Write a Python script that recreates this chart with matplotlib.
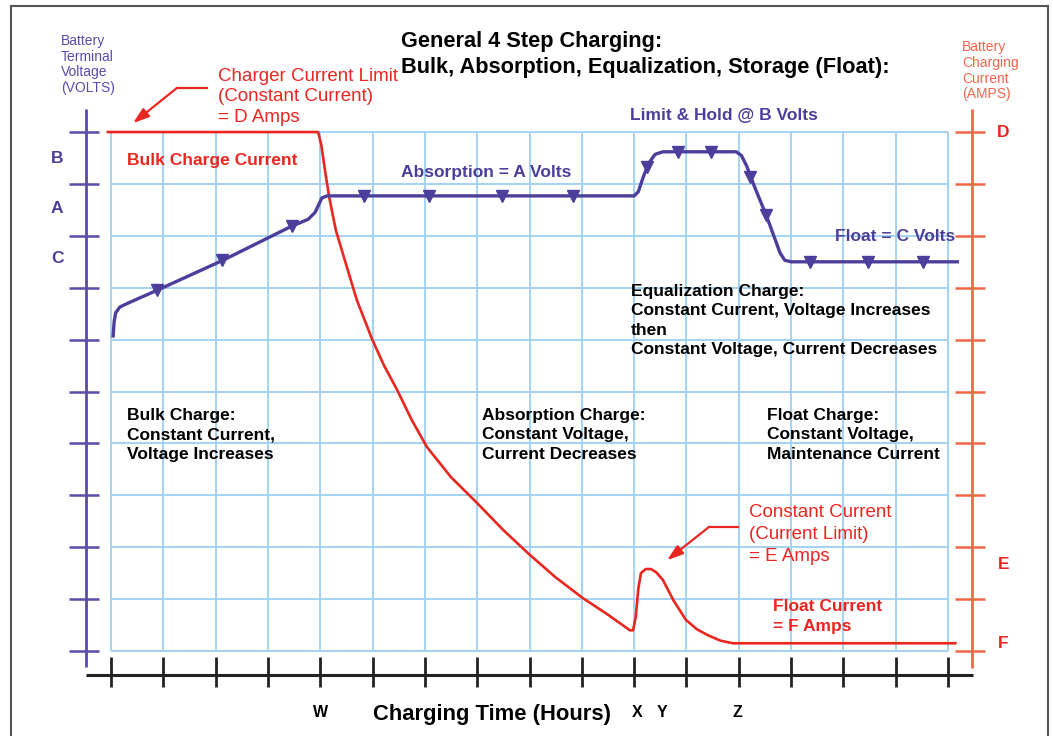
import matplotlib
matplotlib.use("Agg")
import matplotlib.pyplot as plt
from matplotlib.lines import Line2D

plt.rcParams['font.family'] = ['Liberation Sans', 'DejaVu Sans']

# ---------------- data ----------------
grid_x = list(range(0, 17))
grid_y = list(range(0, 11))

current_x = [-0.06, 3.96, 4.02, 4.10, 4.17, 4.30, 4.47, 4.70, 4.99, 5.22, 5.47, 5.75, 6.04,
             6.50, 7.00, 7.50, 8.01, 8.50, 9.02, 9.50, 9.92, 9.98, 10.03, 10.08, 10.13,
             10.22, 10.32, 10.42, 10.55, 10.75, 10.99, 11.20, 11.40, 11.65, 11.89, 16.14]
current_y = [10.0, 10.0, 9.75, 9.20, 8.75, 8.10, 7.53, 6.76, 6.01, 5.50, 5.03, 4.45, 3.93,
             3.35, 2.85, 2.33, 1.85, 1.42, 1.02, 0.70, 0.40, 0.40, 0.65, 1.20, 1.50,
             1.58, 1.58, 1.52, 1.37, 0.98, 0.60, 0.42, 0.31, 0.20, 0.15, 0.15]

voltage_x = [0.04, 0.06, 0.09, 0.17, 0.36, 0.90, 2.14, 3.42, 3.77, 3.90, 3.97, 4.03, 4.13,
             10.00, 10.08, 10.18, 10.28, 10.40, 10.55, 11.95, 12.05, 12.15, 12.30, 12.54,
             12.79, 12.88, 13.00, 16.18]
voltage_y = [6.07, 6.35, 6.52, 6.63, 6.72, 6.96, 7.53, 8.17, 8.32, 8.45, 8.60, 8.73, 8.77,
             8.77, 8.85, 9.15, 9.40, 9.57, 9.62, 9.62, 9.55, 9.35, 8.95, 8.36,
             7.67, 7.53, 7.50, 7.50]

marker_x = [0.88, 2.12, 3.46, 4.84, 6.08, 7.48, 8.83, 10.25, 10.84, 11.47, 12.22, 12.52,
            13.37, 14.47, 15.53]
marker_y = [6.96, 7.53, 8.19, 8.77, 8.77, 8.77, 8.77, 9.33, 9.62, 9.62, 9.14, 8.40,
            7.50, 7.50, 7.50]

volt_labels = ['B', 'A', 'C']
volt_label_y = [9.5, 8.52, 7.57]
amp_labels = ['D', 'E', 'F']
amp_label_y = [10.0, 1.66, 0.15]
time_labels = ['W', 'X', 'Y', 'Z']
time_label_x = [4.0, 10.06, 10.54, 11.97]

# ---------------- colours ----------------
PURPLE = '#4B3F9B'
PURPLE_AX = '#5B4CAA'
RED = '#EA2620'
RED_AX = '#F2664A'
GRID = '#A3D2F2'

fig = plt.figure(figsize=(10.53, 7.36), dpi=100)
ax = fig.add_axes([0.05575, 0.00965, 0.8942, 0.9167])
ax.set_xlim(-1, 17)
ax.set_ylim(-1.5, 11.5)
ax.axis('off')

# grid
ax.vlines(grid_x, 0, 10, colors=GRID, lw=1.4, zorder=1)
ax.hlines(grid_y, 0, 16, colors=GRID, lw=1.4, zorder=1)

# left (voltage) axis
ax.plot([-0.478, -0.478], [-0.31, 10.44], color=PURPLE_AX, lw=2.0, solid_capstyle='butt', zorder=2)
ax.hlines(grid_y, -0.80, -0.23, colors=PURPLE_AX, lw=1.8, zorder=2)
# right (current) axis
ax.plot([16.46, 16.46], [-0.33, 10.44], color=RED_AX, lw=2.0, solid_capstyle='butt', zorder=2)
ax.hlines(grid_y, 16.14, 16.71, colors=RED_AX, lw=1.8, zorder=2)
# bottom axis
ax.plot([-0.48, 16.48], [-0.46, -0.46], color='#222222', lw=2.2, solid_capstyle='butt', zorder=2)
ax.vlines(grid_x, -0.69, -0.12, colors='#222222', lw=2.0, zorder=2)

# curves
ax.plot(current_x, current_y, color=RED, lw=1.9, zorder=4, solid_joinstyle='round')
ax.plot(voltage_x, voltage_y, color=PURPLE, lw=2.4, zorder=5, solid_joinstyle='round')
ax.plot(marker_x, marker_y, linestyle='none', marker='v', ms=8.5, color=PURPLE, zorder=6)

# axis labels
for lab, yv in zip(volt_labels, volt_label_y):
    ax.text(-1.03, yv, lab, color=PURPLE, fontsize=12.5, fontweight='bold', ha='center', va='center')
for lab, yv in zip(amp_labels, amp_label_y):
    ax.text(17.06, yv, lab, color=RED, fontsize=12.5, fontweight='bold', ha='center', va='center')
for lab, xv in zip(time_labels, time_label_x):
    ax.text(xv, -1.18, lab, color='black', fontsize=11.5, fontweight='bold', ha='center', va='center')
ax.text(7.28, -1.23, 'Charging Time (Hours)', fontsize=15.8, fontweight='bold', ha='center', va='center')

ax.text(-0.96, 11.30, 'Battery\nTerminal\nVoltage\n(VOLTS)', color=PURPLE_AX, fontsize=10,
        ha='left', va='center', linespacing=1.15)
ax.text(16.27, 11.18, 'Battery\nCharging\nCurrent\n(AMPS)', color=RED_AX, fontsize=10,
        ha='left', va='center', linespacing=1.15)

# title
ax.text(5.54, 11.49, 'General 4 Step Charging:\nBulk, Absorption, Equalization, Storage (Float):',
        fontsize=15.7, fontweight='bold', ha='left', va='center', linespacing=1.3)

# red annotations
ax.text(2.05, 10.68, 'Charger Current Limit\n(Constant Current)\n= D Amps', color=RED,
        fontsize=13.5, ha='left', va='center', linespacing=1.25)
ax.plot([1.84, 1.26], [10.85, 10.85], color=RED, lw=1.6)
ax.annotate('', xy=(0.42, 10.17), xytext=(1.26, 10.85),
            arrowprops=dict(arrowstyle='-|>,head_length=0.6,head_width=0.2', color=RED, lw=1.6,
                            mutation_scale=16, shrinkA=0, shrinkB=0))
ax.text(0.31, 9.46, 'Bulk Charge Current', color=RED, fontsize=12.5, fontweight='bold',
        ha='left', va='center')
ax.text(12.2, 2.24, 'Constant Current\n(Current Limit)\n= E Amps', color=RED,
        fontsize=13.5, ha='left', va='center', linespacing=1.4)
ax.plot([11.99, 11.43], [2.39, 2.39], color=RED, lw=1.6)
ax.annotate('', xy=(10.63, 1.75), xytext=(11.43, 2.39),
            arrowprops=dict(arrowstyle='-|>,head_length=0.6,head_width=0.2', color=RED, lw=1.6,
                            mutation_scale=16, shrinkA=0, shrinkB=0))
ax.text(12.66, 0.66, 'Float Current\n= F Amps', color=RED, fontsize=12.5, fontweight='bold',
        ha='left', va='center', linespacing=1.42)

# purple annotations
ax.text(5.54, 9.23, 'Absorption = A Volts', color=PURPLE, fontsize=12.5, fontweight='bold',
        ha='left', va='center')
ax.text(9.92, 10.31, 'Limit & Hold @ B Volts', color=PURPLE, fontsize=12.5, fontweight='bold',
        ha='left', va='center')
ax.text(13.84, 7.98, 'Float = C Volts', color=PURPLE, fontsize=12.5, fontweight='bold',
        ha='left', va='center')

# black annotations
ax.text(9.94, 6.37, 'Equalization Charge:\nConstant Current, Voltage Increases\nthen\n'
        'Constant Voltage, Current Decreases', fontsize=12.5, fontweight='bold',
        ha='left', va='center', linespacing=1.38)
ax.text(0.31, 4.17, 'Bulk Charge:\nConstant Current,\nVoltage Increases', fontsize=12.5,
        fontweight='bold', ha='left', va='center', linespacing=1.38)
ax.text(7.09, 4.17, 'Absorption Charge:\nConstant Voltage,\nCurrent Decreases', fontsize=12.5,
        fontweight='bold', ha='left', va='center', linespacing=1.38)
ax.text(12.54, 4.17, 'Float Charge:\nConstant Voltage,\nMaintenance Current', fontsize=12.5,
        fontweight='bold', ha='left', va='center', linespacing=1.38)

# figure border
W, H = 1053.0, 736.0
border = dict(color='#555555', lw=1.5)
fig.add_artist(Line2D([11 / W, 11 / W], [0, 1 - 6 / H], transform=fig.transFigure, **border))
fig.add_artist(Line2D([11 / W, 1048 / W], [1 - 6 / H, 1 - 6 / H], transform=fig.transFigure, **border))
fig.add_artist(Line2D([1048 / W, 1048 / W], [0, 1 - 6 / H], transform=fig.transFigure, **border))

fig.savefig('out.png', dpi=100)
